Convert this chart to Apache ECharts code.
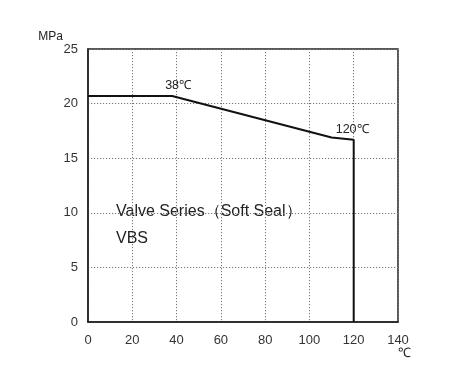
<!DOCTYPE html>
<html><head><meta charset="utf-8">
<script src="https://cdn.jsdelivr.net/npm/echarts@6/dist/echarts.min.js"></script>
<style>html,body{margin:0;padding:0;background:#fff}#c{width:450px;height:386px}</style>
</head><body><div id="c"></div>
<script>
const temperatures = [0, 38, 110, 120, 120];
const pressures = [20.7, 20.7, 16.9, 16.7, 0];
const xTicks = [0, 20, 40, 60, 80, 100, 120, 140];
const yTicks = [0, 5, 10, 15, 20, 25];
const pointLabels = ['', '38℃', '', '120℃', ''];

const chart = echarts.init(document.getElementById('c'));
const font = 'Liberation Sans, Arial, sans-serif';
chart.setOption({
  animation: false,
  grid: {left: 88, top: 49, width: 310, height: 273, show: true, borderColor: '#222', borderWidth: 1.5},
  xAxis: {
    type: 'value', min: xTicks[0], max: xTicks[xTicks.length-1], interval: 20,
    axisLine: {show: true, lineStyle: {color: '#222', width: 1.5}},
    axisTick: {show: false},
    axisLabel: {color: '#333', fontSize: 13, fontFamily: font, margin: 12},
    splitLine: {show: true, lineStyle: {color: '#777', type: [1.2, 1.8], width: 1}}
  },
  yAxis: {
    type: 'value', min: yTicks[0], max: yTicks[yTicks.length-1], interval: 5,
    name: 'MPa', nameLocation: 'end', nameGap: 6,
    nameTextStyle: {color: '#222', fontSize: 12, fontFamily: font, align: 'right', padding: [0, 25, 0, 0]},
    axisLine: {show: true, lineStyle: {color: '#222', width: 1.5}},
    axisTick: {show: false},
    axisLabel: {color: '#333', fontSize: 13, fontFamily: font, margin: 10},
    splitLine: {show: true, lineStyle: {color: '#777', type: [1.2, 1.8], width: 1}}
  },
  series: [{
    type: 'line',
    data: temperatures.map((t, i) => [t, pressures[i]]),
    symbol: 'none',
    lineStyle: {color: '#111', width: 2},
    markPoint: {
      symbol: 'circle', symbolSize: 0,
      label: {show: true, color: '#222', fontSize: 12.5, fontFamily: font},
      data: temperatures.map((t, i) => pointLabels[i] ? {
        coord: [t, pressures[i]],
        label: {formatter: pointLabels[i], position: i === 3 ? [-18, -17] : [-7, -17]}
      } : null).filter(Boolean)
    }
  }],
  graphic: [
    {type: 'text', left: 116, top: 204, style: {text: 'Valve Series（Soft Seal）', fill: '#222', font: '16px ' + font}},
    {type: 'text', left: 116, top: 231, style: {text: 'VBS', fill: '#222', font: '16px ' + font}},
    {type: 'text', left: 398, top: 347, style: {text: '℃', fill: '#222', font: '13px ' + font}}
  ]
});
</script></body></html>
